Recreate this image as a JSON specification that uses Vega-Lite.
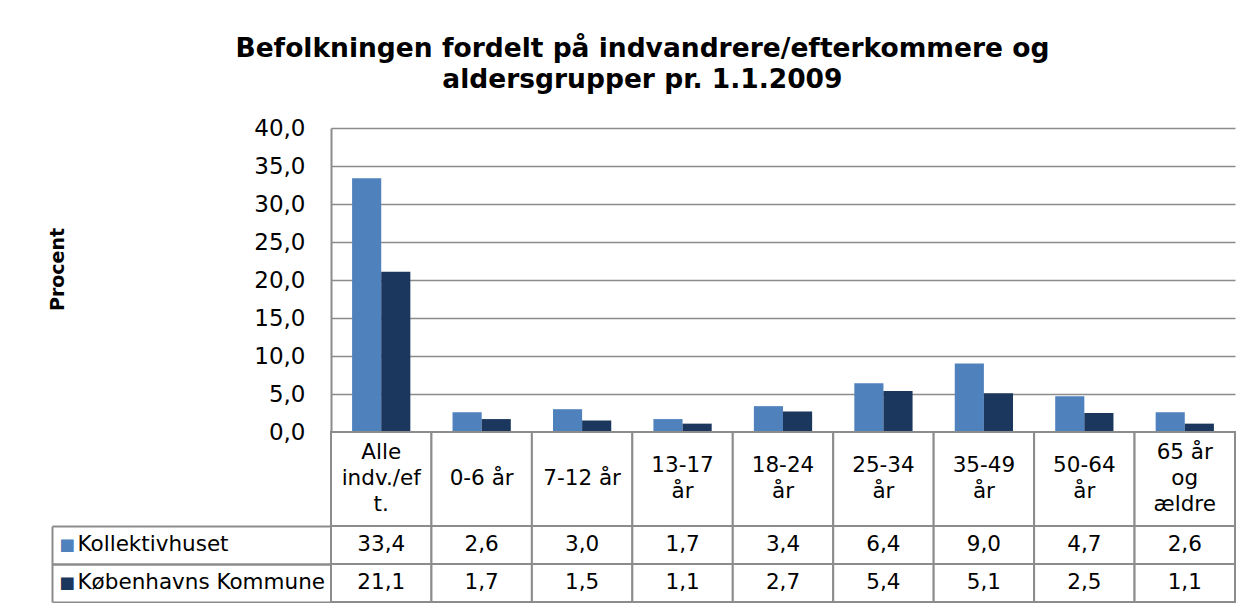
{
  "$schema": "https://vega.github.io/schema/vega-lite/v6.json",
  "padding": {"left": 48, "top": 35, "right": 10, "bottom": 0},
  "bounds": "flush",
  "config": {
    "locale": {"number": {"decimal": ",", "thousands": ".", "grouping": [3], "currency": ["", " kr."]}},
    "font": "DejaVu Sans",
    "view": {"stroke": null},
    "concat": {"spacing": 0}
  },
  "title": {
    "text": ["Befolkningen fordelt på indvandrere/efterkommere og", "aldersgrupper pr. 1.1.2009"],
    "font": "DejaVu Sans", "fontSize": 26.5, "fontWeight": "bold", "lineHeight": 31,
    "anchor": "middle", "color": "black", "offset": 24
  },
  "datasets": {
    "vals": [
      {"cat": "Alle indv./eft.", "series": "Kollektivhuset", "value": 33.4},
      {"cat": "Alle indv./eft.", "series": "Københavns Kommune", "value": 21.1},
      {"cat": "0-6 år", "series": "Kollektivhuset", "value": 2.6},
      {"cat": "0-6 år", "series": "Københavns Kommune", "value": 1.7},
      {"cat": "7-12 år", "series": "Kollektivhuset", "value": 3.0},
      {"cat": "7-12 år", "series": "Københavns Kommune", "value": 1.5},
      {"cat": "13-17 år", "series": "Kollektivhuset", "value": 1.7},
      {"cat": "13-17 år", "series": "Københavns Kommune", "value": 1.1},
      {"cat": "18-24 år", "series": "Kollektivhuset", "value": 3.4},
      {"cat": "18-24 år", "series": "Københavns Kommune", "value": 2.7},
      {"cat": "25-34 år", "series": "Kollektivhuset", "value": 6.4},
      {"cat": "25-34 år", "series": "Københavns Kommune", "value": 5.4},
      {"cat": "35-49 år", "series": "Kollektivhuset", "value": 9.0},
      {"cat": "35-49 år", "series": "Københavns Kommune", "value": 5.1},
      {"cat": "50-64 år", "series": "Kollektivhuset", "value": 4.7},
      {"cat": "50-64 år", "series": "Københavns Kommune", "value": 2.5},
      {"cat": "65 år og ældre", "series": "Kollektivhuset", "value": 2.6},
      {"cat": "65 år og ældre", "series": "Københavns Kommune", "value": 1.1}
    ],
    "cats": [
      {"cat": "Alle indv./eft.", "label": "Alle|indv./ef|t."},
      {"cat": "0-6 år", "label": "0-6 år"},
      {"cat": "7-12 år", "label": "7-12 år"},
      {"cat": "13-17 år", "label": "13-17|år"},
      {"cat": "18-24 år", "label": "18-24|år"},
      {"cat": "25-34 år", "label": "25-34|år"},
      {"cat": "35-49 år", "label": "35-49|år"},
      {"cat": "50-64 år", "label": "50-64|år"},
      {"cat": "65 år og ældre", "label": "65 år|og|ældre"}
    ]
  },
  "spacing": 0,
  "vconcat": [
    {
      "width": 904, "height": 304,
      "data": {"name": "vals"},
      "mark": {"type": "bar"},
      "encoding": {
        "x": {"field": "cat", "type": "nominal", "sort": null, "scale": {"paddingInner": 0.42, "paddingOuter": 0.21}, "axis": null},
        "xOffset": {"field": "series", "type": "nominal", "sort": null, "scale": {"paddingInner": 0, "paddingOuter": 0}},
        "y": {"field": "value", "type": "quantitative", "scale": {"domain": [0, 40]},
          "axis": {"values": [0, 5, 10, 15, 20, 25, 30, 35, 40], "format": ".1f", "title": "Procent",
            "titleFont": "DejaVu Sans", "titleFontSize": 19, "titleFontWeight": "bold", "titleColor": "black", "titlePadding": 186,
            "titleY": 141,
            "labelFontSize": 23, "labelColor": "black", "labelPadding": 26, "ticks": false,
            "domain": true, "domainColor": "#8c8c8c", "domainWidth": 2,
            "grid": true, "gridColor": "#8c8c8c", "gridWidth": 1.5}},
        "color": {"field": "series", "type": "nominal", "sort": null, "scale": {"range": ["#4F81BD", "#1B375E"]}, "legend": null}
      }
    },
    {
      "width": 904, "height": 94,
      "data": {"name": "cats"},
      "encoding": {
        "x": {"field": "cat", "type": "nominal", "sort": null, "scale": {"paddingInner": 0, "paddingOuter": 0}, "axis": null}
      },
      "layer": [
        {"mark": {"type": "rect", "fill": "white", "stroke": "#8c8c8c", "strokeWidth": 2}},
        {"mark": {"type": "text", "fontSize": 21.5, "lineBreak": "|", "lineHeight": 26, "baseline": "middle", "color": "black",
            "dy": {"expr": "-13 * (length(split(datum.label, '|')) - 1)"}},
          "encoding": {"text": {"field": "label", "type": "nominal"}}}
      ]
    },
    {
      "width": 904, "height": 76,
      "data": {"name": "vals"},
      "layer": [
        {
          "mark": {"type": "rect", "fill": "white", "stroke": "#8c8c8c", "strokeWidth": 2},
          "encoding": {
            "x": {"field": "cat", "type": "nominal", "sort": null, "scale": {"paddingInner": 0, "paddingOuter": 0}, "axis": null},
            "y": {"field": "series", "type": "nominal", "sort": null, "scale": {"paddingInner": 0, "paddingOuter": 0},
              "axis": {"orient": "left", "title": null, "offset": 0, "domain": false, "bandPosition": 0,
                "ticks": true, "tickSize": 279, "tickColor": "#8c8c8c", "tickWidth": 2,
                "labelAlign": "left", "labelPadding": -25, "labelOffset": 0, "labelFontSize": 21.5,
                "labelColor": "black", "labelLimit": 0}}
          }
        },
        {
          "mark": {"type": "text", "fontSize": 21.5, "color": "black"},
          "encoding": {
            "x": {"field": "cat", "type": "nominal", "sort": null, "scale": {"paddingInner": 0, "paddingOuter": 0}, "axis": null},
            "y": {"field": "series", "type": "nominal", "sort": null, "scale": {"paddingInner": 0, "paddingOuter": 0},
              "axis": {"orient": "left", "title": null, "offset": 279, "domain": true, "domainColor": "#8c8c8c", "domainWidth": 2,
                "bandPosition": 1, "ticks": true, "tickSize": -279, "tickColor": "#8c8c8c", "tickWidth": 2,
                "labelExpr": "'■'", "labelAlign": "left", "labelPadding": 272, "labelOffset": 0, "labelFontSize": 16.5,
                "labelColor": {"condition": {"test": "datum.value === 'Kollektivhuset'", "value": "#4F81BD"}, "value": "#1B375E"},
                "labelLimit": 0}},
            "text": {"field": "value", "type": "quantitative", "format": ".1f"}
          }
        }
      ],
      "resolve": {"axis": {"y": "independent"}}
    }
  ]
}
